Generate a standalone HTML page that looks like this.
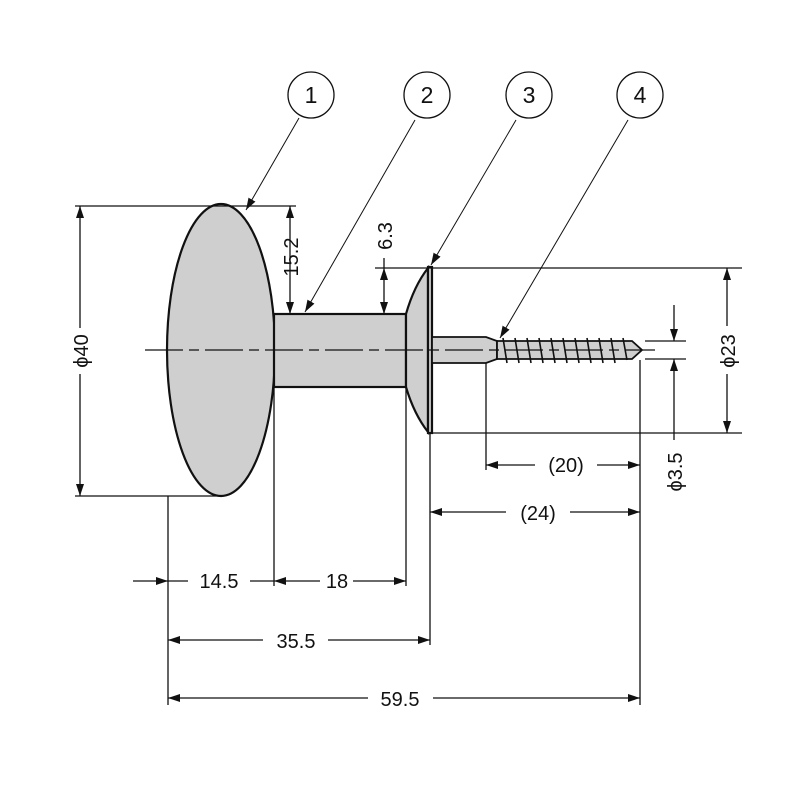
<!DOCTYPE html>
<html><head><meta charset="utf-8"><style>html,body{margin:0;padding:0;background:#fff}svg{display:block}text{font-family:"Liberation Sans",sans-serif;font-size:20px;fill:#111}</style></head>
<body>
<svg width="800" height="800" viewBox="0 0 800 800" xmlns="http://www.w3.org/2000/svg">
<defs>
<marker id="a" viewBox="0 0 12 8" refX="12" refY="4" markerWidth="12" markerHeight="8" markerUnits="userSpaceOnUse" orient="auto"><path d="M0,0L12,4L0,8z" fill="#111"/></marker>
</defs>
<g stroke="#111" fill="none">
<g stroke-width="1.3">
<circle cx="311" cy="95" r="23"/><circle cx="427" cy="95" r="23"/><circle cx="529" cy="95" r="23"/><circle cx="640" cy="95" r="23"/>
</g>
<g stroke-width="1">
<line x1="299" y1="118" x2="246" y2="210" marker-end="url(#a)"/>
<line x1="415" y1="120" x2="305" y2="312" marker-end="url(#a)"/>
<line x1="516" y1="120" x2="431" y2="265" marker-end="url(#a)"/>
<line x1="628" y1="120" x2="500" y2="338" marker-end="url(#a)"/>
</g>
<g stroke-width="2.2" fill="#cfcfcf">
<ellipse cx="221" cy="350" rx="54" ry="146"/>
<rect x="274" y="314" width="132" height="73"/>
<path d="M406,314 Q414,286 428,268 L428,432 Q414,414 406,387 Z"/>
<rect x="428" y="267" width="4" height="166"/>
<path d="M432,337 L486,337 L497,341 L497,359 L486,363 L432,363 Z" stroke-width="1.8"/>
<path d="M497,341 L632,341 L642,350 L632,359 L497,359 Z" stroke-width="1.8"/>
</g>
<g stroke-width="1.6">
<path d="M503,338l4,25M515,338l4,25M527,338l4,25M539,338l4,25M551,338l4,25M563,338l4,25M575,338l4,25M587,338l4,25M599,338l4,25M611,338l4,25M623,338l4,22"/>
</g>
<line x1="145" y1="350" x2="655" y2="350" stroke-width="1.2" stroke-dasharray="38,6,10,6"/>
<g stroke-width="1.3">
<line x1="75" y1="206" x2="296" y2="206"/>
<line x1="75" y1="496" x2="222" y2="496"/>
<line x1="375" y1="268" x2="742" y2="268"/>
<line x1="432" y1="433" x2="742" y2="433"/>
<line x1="645" y1="341" x2="686" y2="341"/>
<line x1="645" y1="359" x2="686" y2="359"/>
<line x1="168" y1="496" x2="168" y2="705"/>
<line x1="274" y1="387" x2="274" y2="586"/>
<line x1="406" y1="387" x2="406" y2="586"/>
<line x1="430" y1="433" x2="430" y2="645"/>
<line x1="486" y1="363" x2="486" y2="470"/>
<line x1="640" y1="360" x2="640" y2="705"/>
</g>
<g stroke-width="1.3">
<line x1="80" y1="328" x2="80" y2="206" marker-end="url(#a)"/>
<line x1="80" y1="374" x2="80" y2="496" marker-end="url(#a)"/>
<line x1="290" y1="285" x2="290" y2="206" marker-end="url(#a)"/>
<line x1="290" y1="285" x2="290" y2="314" marker-end="url(#a)"/>
<line x1="384" y1="290" x2="384" y2="268" marker-end="url(#a)"/>
<line x1="384" y1="290" x2="384" y2="314" marker-end="url(#a)"/>
<line x1="384" y1="268" x2="384" y2="258"/>
<line x1="727" y1="326" x2="727" y2="268" marker-end="url(#a)"/>
<line x1="727" y1="374" x2="727" y2="433" marker-end="url(#a)"/>
<line x1="674" y1="305" x2="674" y2="341" marker-end="url(#a)"/>
<line x1="674" y1="440" x2="674" y2="359" marker-end="url(#a)"/>
<line x1="535" y1="465" x2="486" y2="465" marker-end="url(#a)"/>
<line x1="597" y1="465" x2="640" y2="465" marker-end="url(#a)"/>
<line x1="506" y1="512" x2="430" y2="512" marker-end="url(#a)"/>
<line x1="570" y1="512" x2="640" y2="512" marker-end="url(#a)"/>
<line x1="133" y1="581" x2="168" y2="581" marker-end="url(#a)"/>
<line x1="168" y1="581" x2="188" y2="581"/>
<line x1="250" y1="581" x2="274" y2="581"/>
<line x1="320" y1="581" x2="274" y2="581" marker-end="url(#a)"/>
<line x1="353" y1="581" x2="406" y2="581" marker-end="url(#a)"/>
<line x1="263" y1="640" x2="168" y2="640" marker-end="url(#a)"/>
<line x1="328" y1="640" x2="430" y2="640" marker-end="url(#a)"/>
<line x1="368" y1="698" x2="168" y2="698" marker-end="url(#a)"/>
<line x1="433" y1="698" x2="640" y2="698" marker-end="url(#a)"/>
</g>
</g>
<g text-anchor="middle">
<text x="311" y="103" style="font-size:23px">1</text>
<text x="427" y="103" style="font-size:23px">2</text>
<text x="529" y="103" style="font-size:23px">3</text>
<text x="640" y="103" style="font-size:23px">4</text>
<text x="219" y="588">14.5</text>
<text x="337" y="588">18</text>
<text x="296" y="648">35.5</text>
<text x="400" y="706">59.5</text>
<text x="566" y="472">(20)</text>
<text x="538" y="520">(24)</text>
<text transform="translate(88,351) rotate(-90)">ϕ40</text>
<text transform="translate(298,257) rotate(-90)">15.2</text>
<text transform="translate(392,236) rotate(-90)">6.3</text>
<text transform="translate(735,351) rotate(-90)">ϕ23</text>
<text transform="translate(682,472) rotate(-90)">ϕ3.5</text>
</g>
</svg>
</body></html>
